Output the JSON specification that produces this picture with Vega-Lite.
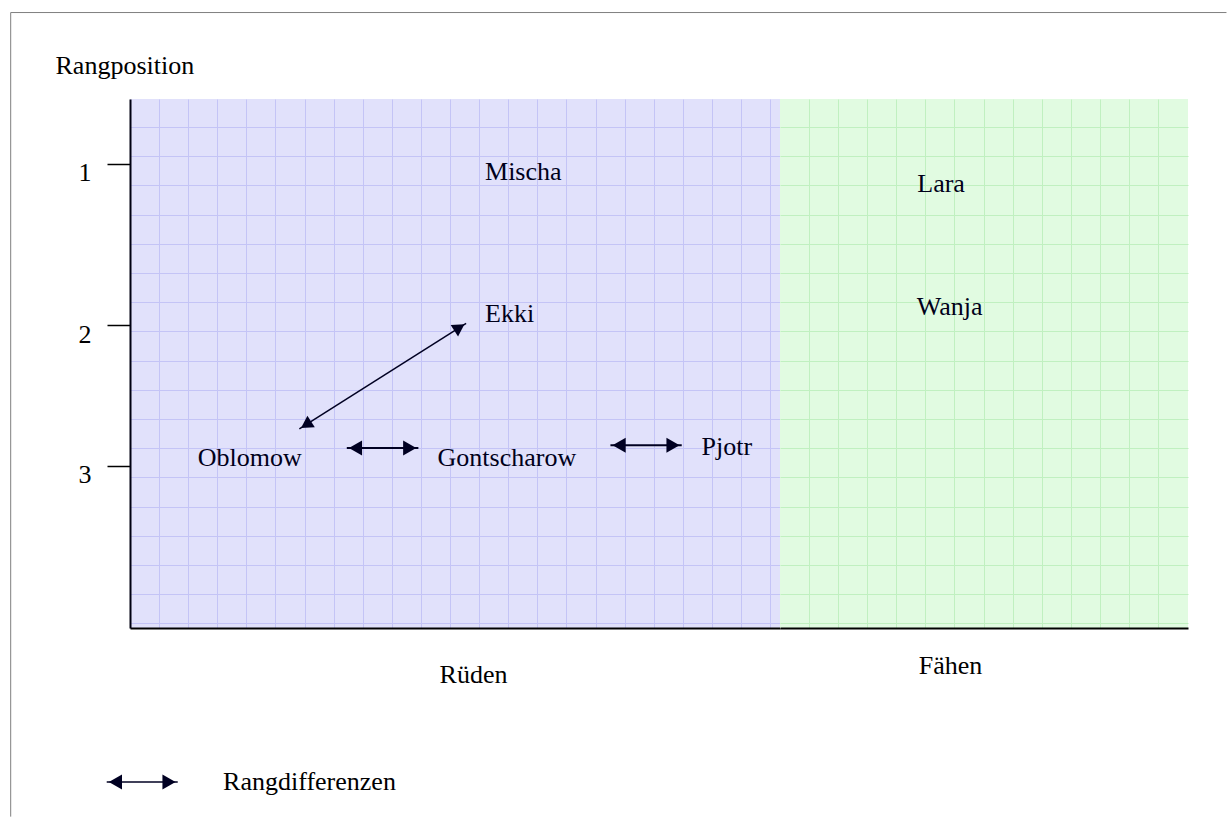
{
  "$schema": "https://vega.github.io/schema/vega-lite/v6.json",
  "autosize": {"type": "pad"},
  "padding": {"left": 8, "top": 10, "right": 0, "bottom": 0},
  "background": "white",
  "spacing": 0,
  "bounds": "flush",
  "datasets": {
    "rueden": [
      {"Name": "Mischa", "Spalte": 12.2, "Rang": 1.111},
      {"Name": "Ekki", "Spalte": 12.2, "Rang": 2.047},
      {"Name": "Oblomow", "Spalte": 2.33, "Rang": 3.002},
      {"Name": "Gontscharow", "Spalte": 10.57, "Rang": 3.002},
      {"Name": "Pjotr", "Spalte": 19.64, "Rang": 2.929}
    ],
    "faehen": [
      {"Name": "Lara", "Spalte": 4.72, "Rang": 1.187},
      {"Name": "Wanja", "Spalte": 4.7, "Rang": 2.004}
    ],
    "pfeile": [
      {"Von": "Oblomow", "Nach": "Ekki", "Art": "schräg", "Von_Spalte": 5.82, "Von_Rang": 2.755, "Bis_Spalte": 11.55, "Bis_Rang": 2.056},
      {"Von": "Oblomow", "Nach": "Gontscharow", "Art": "waagerecht", "Von_Spalte": 7.45, "Von_Rang": 2.881, "Bis_Spalte": 9.91, "Bis_Rang": 2.881},
      {"Von": "Gontscharow", "Nach": "Pjotr", "Art": "waagerecht", "Von_Spalte": 16.51, "Von_Rang": 2.863, "Bis_Spalte": 18.96, "Bis_Rang": 2.863},
      {"Von": "Legende", "Nach": "Legende", "Art": "Legende", "Von_Spalte": -0.8, "Von_Rang": 5.091, "Bis_Spalte": 1.64, "Bis_Rang": 5.091}
    ],
    "legendentext": [
      {"Text": "Rangdifferenzen", "Spalte": 3.2, "Rang": 5.146}
    ],
    "rahmen": [
      {"Punkt": 1, "Spalte": -4.1, "Rang": 5.32},
      {"Punkt": 2, "Spalte": -4.1, "Rang": 0},
      {"Punkt": 3, "Spalte": 37.68, "Rang": 0}
    ]
  },
  "hconcat": [
    {
      "width": 650,
      "height": 529,
      "view": {"fill": "#e1e1fb", "stroke": null},
      "resolve": {"axis": {"y": "independent"}},
      "layer": [
        {
          "data": {"name": "rueden"},
          "mark": {"type": "text", "align": "left", "baseline": "alphabetic", "fontSize": 26, "font": "Liberation Serif", "color": "#00001a"},
          "encoding": {
            "x": {"field": "Spalte", "type": "quantitative",
              "scale": {"domain": [0, 22.337], "nice": false, "zero": false},
              "axis": {"values": [1,2,3,4,5,6,7,8,9,10,11,12,13,14,15,16,17,18,19,20,21,22], "tickCount": 100,
                "grid": true, "gridColor": "#c4c4f6", "gridWidth": 1,
                "ticks": false, "labels": false, "domain": true, "domainColor": "#000000", "domainWidth": 2,
                "title": "Rüden", "titleX": 343, "titleY": 54, "titleAlign": "center", "titleBaseline": "alphabetic"}},
            "y": {"field": "Rang", "type": "quantitative",
              "scale": {"domain": [0.572, 4.072], "reverse": true, "nice": false, "zero": false},
              "axis": {"orient": "left", "values": [1, 2.069, 3], "labelExpr": "round(datum.value)",
                "grid": false, "ticks": true, "tickSize": 23, "tickWidth": 1.5, "tickColor": "#000000",
                "domain": true, "domainColor": "#000011", "domainWidth": 2,
                "labelPadding": 16, "labelOffset": 9,
                "title": "Rangposition", "titleAngle": 0, "titleAlign": "left", "titleBaseline": "alphabetic",
                "titleX": -75, "titleY": -26}},
            "text": {"field": "Name"}
          }
        },
        {
          "data": {"name": "pfeile"},
          "transform": [{"filter": "datum.Art == 'waagerecht'"}],
          "mark": {"type": "rule", "strokeWidth": 2, "color": "#000022"},
          "encoding": {
            "x": {"field": "Von_Spalte", "type": "quantitative", "scale": {"domain": [0, 22.337], "nice": false, "zero": false}},
            "x2": {"field": "Bis_Spalte"},
            "y": {"field": "Von_Rang", "type": "quantitative",
              "scale": {"domain": [0.572, 4.072], "reverse": true, "nice": false, "zero": false},
              "axis": {"orient": "right", "values": [0.757,0.95,1.144,1.337,1.53,1.723,1.916,2.11,2.303,2.496,2.689,2.882,3.075,3.269,3.462,3.655,3.848,4.041], "tickCount": 100,
                "grid": true, "gridColor": "#c4c4f6", "gridWidth": 1, "ticks": false, "labels": false, "domain": false, "title": null}},
            "y2": {"field": "Bis_Rang"}
          }
        },
        {
          "data": {"name": "pfeile"},
          "transform": [{"filter": "datum.Art != 'waagerecht'"}],
          "mark": {"type": "rule", "strokeWidth": 1.5, "color": "#000022"},
          "encoding": {
            "x": {"field": "Von_Spalte", "type": "quantitative", "scale": {"domain": [0, 22.337], "nice": false, "zero": false}},
            "x2": {"field": "Bis_Spalte"},
            "y": {"field": "Von_Rang", "type": "quantitative", "scale": {"domain": [0.572, 4.072], "reverse": true, "nice": false, "zero": false}, "axis": null},
            "y2": {"field": "Bis_Rang"}
          }
        },
        {
          "data": {"name": "pfeile"},
          "transform": [{"filter": "datum.Art != 'schräg'"}],
          "mark": {"type": "point", "shape": "triangle-left", "filled": true, "opacity": 1, "size": 230, "xOffset": 8.7, "color": "#000022"},
          "encoding": {
            "x": {"field": "Von_Spalte", "type": "quantitative", "scale": {"domain": [0, 22.337], "nice": false, "zero": false}},
            "y": {"field": "Von_Rang", "type": "quantitative", "scale": {"domain": [0.572, 4.072], "reverse": true, "nice": false, "zero": false}, "axis": null}
          }
        },
        {
          "data": {"name": "pfeile"},
          "transform": [{"filter": "datum.Art != 'schräg'"}],
          "mark": {"type": "point", "shape": "triangle-right", "filled": true, "opacity": 1, "size": 230, "xOffset": -8.7, "color": "#000022"},
          "encoding": {
            "x": {"field": "Bis_Spalte", "type": "quantitative", "scale": {"domain": [0, 22.337], "nice": false, "zero": false}},
            "y": {"field": "Bis_Rang", "type": "quantitative", "scale": {"domain": [0.572, 4.072], "reverse": true, "nice": false, "zero": false}, "axis": null}
          }
        },
        {
          "data": {"name": "pfeile"},
          "transform": [{"filter": "datum.Art == 'schräg'"}],
          "mark": {"type": "point", "shape": "triangle-left", "filled": true, "opacity": 1, "size": 190, "angle": 327.65, "xOffset": 6.7, "yOffset": -4.25, "color": "#000022"},
          "encoding": {
            "x": {"field": "Von_Spalte", "type": "quantitative", "scale": {"domain": [0, 22.337], "nice": false, "zero": false}},
            "y": {"field": "Von_Rang", "type": "quantitative", "scale": {"domain": [0.572, 4.072], "reverse": true, "nice": false, "zero": false}, "axis": null}
          }
        },
        {
          "data": {"name": "pfeile"},
          "transform": [{"filter": "datum.Art == 'schräg'"}],
          "mark": {"type": "point", "shape": "triangle-right", "filled": true, "opacity": 1, "size": 190, "angle": 327.65, "xOffset": -6.7, "yOffset": 4.25, "color": "#000022"},
          "encoding": {
            "x": {"field": "Bis_Spalte", "type": "quantitative", "scale": {"domain": [0, 22.337], "nice": false, "zero": false}},
            "y": {"field": "Bis_Rang", "type": "quantitative", "scale": {"domain": [0.572, 4.072], "reverse": true, "nice": false, "zero": false}, "axis": null}
          }
        },
        {
          "data": {"name": "legendentext"},
          "mark": {"type": "text", "align": "left", "baseline": "alphabetic", "fontSize": 26, "font": "Liberation Serif", "color": "#000000"},
          "encoding": {
            "x": {"field": "Spalte", "type": "quantitative", "scale": {"domain": [0, 22.337], "nice": false, "zero": false}},
            "y": {"field": "Rang", "type": "quantitative", "scale": {"domain": [0.572, 4.072], "reverse": true, "nice": false, "zero": false}, "axis": null},
            "text": {"field": "Text"}
          }
        },
        {
          "data": {"name": "rahmen"},
          "mark": {"type": "line", "strokeWidth": 1, "color": "#7f7f7f", "strokeCap": "butt"},
          "encoding": {
            "x": {"field": "Spalte", "type": "quantitative", "scale": {"domain": [0, 22.337], "nice": false, "zero": false}},
            "y": {"field": "Rang", "type": "quantitative", "scale": {"domain": [0.572, 4.072], "reverse": true, "nice": false, "zero": false}, "axis": null},
            "order": {"field": "Punkt", "type": "quantitative"}
          }
        }
      ]
    },
    {
      "width": 408,
      "height": 529,
      "view": {"fill": "#e1fbe1", "stroke": null},
      "data": {"name": "faehen"},
      "mark": {"type": "text", "align": "left", "baseline": "alphabetic", "fontSize": 26, "font": "Liberation Serif", "color": "#00001a"},
      "encoding": {
        "x": {"field": "Spalte", "type": "quantitative",
          "scale": {"domain": [0, 14.03], "nice": false, "zero": false},
          "axis": {"values": [1,2,3,4,5,6,7,8,9,10,11,12,13], "tickCount": 100,
            "grid": true, "gridColor": "#c0f0c0", "gridWidth": 1,
            "ticks": false, "labels": false, "domain": true, "domainColor": "#000000", "domainWidth": 2,
            "title": "Fähen", "titleX": 170, "titleY": 45, "titleAlign": "center", "titleBaseline": "alphabetic"}},
        "y": {"field": "Rang", "type": "quantitative",
          "scale": {"domain": [0.572, 4.072], "reverse": true, "nice": false, "zero": false},
          "axis": {"values": [0.757,0.95,1.144,1.337,1.53,1.723,1.916,2.11,2.303,2.496,2.689,2.882,3.075,3.269,3.462,3.655,3.848,4.041], "tickCount": 100,
            "grid": true, "gridColor": "#c0f0c0", "gridWidth": 1, "ticks": false, "labels": false, "domain": false, "title": null}},
        "text": {"field": "Name"}
      }
    }
  ],
  "config": {
    "font": "Liberation Serif",
    "view": {"stroke": null},
    "axis": {
      "labelFont": "Liberation Serif",
      "titleFont": "Liberation Serif",
      "labelFontSize": 26,
      "titleFontSize": 26,
      "titleFontWeight": "normal",
      "labelColor": "#000000",
      "titleColor": "#000000"
    }
  }
}
